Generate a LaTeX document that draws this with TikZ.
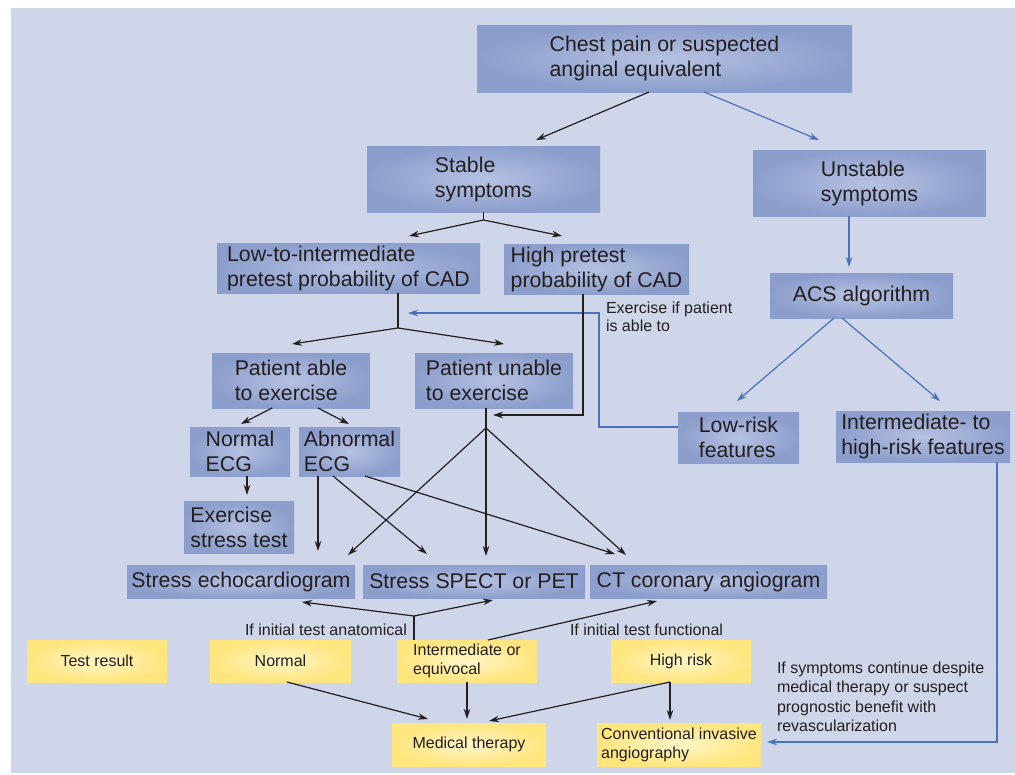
\documentclass[tikz,border=0pt]{standalone}
\usepackage{fontspec}
\setmainfont{Liberation Sans}
\usetikzlibrary{arrows.meta}
\definecolor{bgc}{RGB}{207,214,233}
\definecolor{boxout}{RGB}{140,158,204}
\definecolor{boxin}{RGB}{182,194,226}
\definecolor{yout}{RGB}{255,229,125}
\definecolor{yin}{RGB}{255,246,200}
\definecolor{ink}{RGB}{35,31,32}
\definecolor{bline}{RGB}{74,114,184}
\begin{document}
\begin{tikzpicture}[x=1pt,y=-1pt,
  bluebox/.style={inner sep=0pt, outer sep=0pt, inner color=boxin, outer color=boxout, align=left, text=ink, font=\fontsize{21.3}{25}\selectfont},
  yelbox/.style={inner sep=0pt, outer sep=0pt, inner color=yin, outer color=yout, align=left, text=ink, font=\fontsize{16}{19}\selectfont},
  notetext/.style={inner sep=0pt, outer sep=0pt, align=left, text=ink, font=\fontsize{16}{18.5}\selectfont},
  karrow/.style={draw=ink, line width=1.2pt, -{Stealth[length=10pt,width=6.5pt]}},
  barrow/.style={draw=bline, line width=1.2pt, -{Stealth[length=10pt,width=6.5pt]}},
  kline/.style={draw=ink, line width=1.2pt},
]
\useasboundingbox (0,0) rectangle (1015,774);
\fill[white] (0,0) rectangle (1015,774);
\fill[bgc] (11,8) rectangle (1015,773);

% blue boxes
\node[bluebox, minimum width=375pt, minimum height=67pt] (chest) at (664.5,58.5) {Chest pain or suspected\\anginal equivalent};
\node[bluebox, minimum width=233pt, minimum height=66pt] (stable) at (483.5,179) {Stable\\symptoms};
\node[bluebox, minimum width=233pt, minimum height=66pt] (unstable) at (869.5,183) {Unstable\\symptoms};
\node[bluebox, minimum width=263pt, minimum height=50pt] (lowint) at (348.5,268) {Low-to-intermediate\\pretest probability of CAD};
\node[bluebox, minimum width=185pt, minimum height=50pt] (highpre) at (596.5,269) {High pretest\\probability of CAD};
\node[bluebox, minimum width=183pt, minimum height=45pt] (acs) at (861.5,295.5) {ACS algorithm};
\node[bluebox, minimum width=158pt, minimum height=55pt] (able) at (291,380.5) {Patient able\\to exercise};
\node[bluebox, minimum width=158pt, minimum height=55pt] (unable) at (494,380.5) {Patient unable\\to exercise};
\node[bluebox, minimum width=121pt, minimum height=51pt] (lowrisk) at (738.5,437.5) {Low-risk\\features};
\node[bluebox, minimum width=174pt, minimum height=51pt] (inthigh) at (923,436.5) {Intermediate- to\\high-risk features};
\node[bluebox, minimum width=100pt, minimum height=49pt] (normecg) at (240,451.5) {Normal\\ECG};
\node[bluebox, minimum width=101pt, minimum height=49pt] (abnecg) at (349.5,451.5) {Abnormal\\ECG};
\node[bluebox, minimum width=110pt, minimum height=52pt] (exst) at (239,527) {Exercise\\stress test};
\node[bluebox, minimum width=228pt, minimum height=33pt] (echo) at (241,581.5) {Stress echocardiogram};
\node[bluebox, minimum width=222pt, minimum height=33pt] (spect) at (474,581.5) {Stress SPECT or PET};
\node[bluebox, minimum width=237pt, minimum height=33pt] (ct) at (708.5,581.5) {CT coronary angiogram};

% yellow boxes
\node[yelbox, minimum width=140pt, minimum height=42pt] (testres) at (97,661) {Test result};
\node[yelbox, minimum width=141pt, minimum height=42pt] (normal) at (280.5,661) {Normal};
\node[yelbox, minimum width=140pt, minimum height=42pt] (interm) at (467,661) {Intermediate or\\equivocal};
\node[yelbox, minimum width=140pt, minimum height=42pt] (highrisk) at (681,661) {High risk};
\node[yelbox, minimum width=154pt, minimum height=43pt] (medther) at (469,744.5) {Medical therapy};
\node[yelbox, minimum width=164pt, minimum height=43pt] (conv) at (679,744.5) {Conventional invasive\\angiography};

% notes
\node[notetext, anchor=north west] (exnote) at (606,301.5) {Exercise if patient\\is able to};
\node[notetext, anchor=base west] (anat) at (245,635) {If initial test anatomical};
\node[notetext, anchor=base west] (func) at (570,635) {If initial test functional};
\node[notetext, anchor=north west, font=\fontsize{16}{19.5}\selectfont] (symnote) at (777,661.5) {If symptoms continue despite\\medical therapy or suspect\\prognostic benefit with\\revascularization};

% connectors
\draw[karrow] ([xshift=-15.5pt]chest.south) -- ([xshift=52.5pt,yshift=6pt]stable.north);
\draw[barrow] ([xshift=39.5pt]chest.south) -- ([xshift=-50.5pt,yshift=10pt]unstable.north);
\coordinate (j1) at ([yshift=-8pt]stable.south);
\draw[kline] (stable.south) -- (j1);
\draw[karrow] (j1) -- ([xshift=60.5pt,yshift=7pt]lowint.north);
\draw[karrow] (j1) -- ([xshift=-34.5pt,yshift=8pt]highpre.north);
\draw[barrow] ([xshift=-20.5pt]unstable.south) -- ([xshift=-12.5pt,yshift=6pt]acs.north);
\draw[barrow] ([xshift=-27.5pt]acs.south) -- ([xshift=-1.5pt,yshift=11pt]lowrisk.north);
\draw[barrow] ([xshift=-19.5pt]acs.south) -- ([xshift=17pt,yshift=10pt]inthigh.north);
\coordinate (j2) at ([xshift=49.5pt,yshift=-35pt]lowint.south);
\draw[kline] ([xshift=49.5pt]lowint.south) -- (j2);
\draw[karrow] (j2) -- ([xshift=1pt,yshift=9pt]able.north);
\draw[karrow] (j2) -- ([xshift=10pt,yshift=9pt]unable.north);
\coordinate (exend) at ([xshift=59.5pt,yshift=-20pt]lowint.south);
\coordinate (bcorner) at (599,313);
\draw[barrow] ([yshift=10.5pt]lowrisk.west) -| (bcorner) -- (exend);
\draw[karrow] ([xshift=-13.5pt]highpre.south) |- ([xshift=-1pt,yshift=-7pt]unable.south);
\coordinate (j3) at ([xshift=-8pt,yshift=-20pt]unable.south);
\draw[kline] ([xshift=-8pt]unable.south) -- (j3);
\draw[karrow] (j3) -- ([xshift=107pt,yshift=10pt]echo.north);
\draw[karrow] (j3) -- ([xshift=12pt,yshift=9pt]spect.north);
\draw[karrow] (j3) -- ([xshift=-82.5pt,yshift=10pt]ct.north);
\draw[karrow] ([xshift=-19pt]able.south) -- ([xshift=1pt,yshift=3pt]normecg.north);
\draw[karrow] ([xshift=27pt]able.south) -- ([xshift=-0.5pt,yshift=3pt]abnecg.north);
\draw[karrow] ([xshift=7pt]normecg.south) -- ([xshift=8pt,yshift=6pt]exst.north);
\draw[karrow] ([xshift=-31.5pt]abnecg.south) -- ([xshift=77pt,yshift=14pt]echo.north);
\draw[karrow] ([xshift=-16.5pt]abnecg.south) -- ([xshift=-47pt,yshift=11pt]spect.north);
\draw[karrow] ([xshift=15.5pt]abnecg.south) -- ([xshift=-93.5pt,yshift=11pt]ct.north);
\coordinate (j4) at ([xshift=-53pt,yshift=24pt]interm.north);
\draw[kline] ([xshift=-53pt]interm.north) -- (j4);
\draw[karrow] (j4) -- ([xshift=61pt,yshift=-4pt]echo.south);
\draw[karrow] (j4) -- ([xshift=19pt,yshift=-2pt]spect.south);
\draw[karrow] ([xshift=21pt]interm.north) -- ([xshift=-51.5pt,yshift=-3pt]ct.south);
\draw[karrow] ([xshift=6.5pt]normal.south) -- ([xshift=-41pt,yshift=4pt]medther.north);
\draw[karrow] (interm.south) -- ([xshift=-2pt,yshift=4pt]medther.north);
\draw[karrow] ([xshift=-11pt]highrisk.south) -- ([xshift=20pt,yshift=2pt]medther.north);
\draw[karrow] ([xshift=-11pt]highrisk.south) -- ([xshift=-9pt,yshift=3pt]conv.north);
\draw[barrow] ([xshift=74pt]inthigh.south) |- ([xshift=6pt,yshift=2.5pt]conv.east);
\end{tikzpicture}
\end{document}
